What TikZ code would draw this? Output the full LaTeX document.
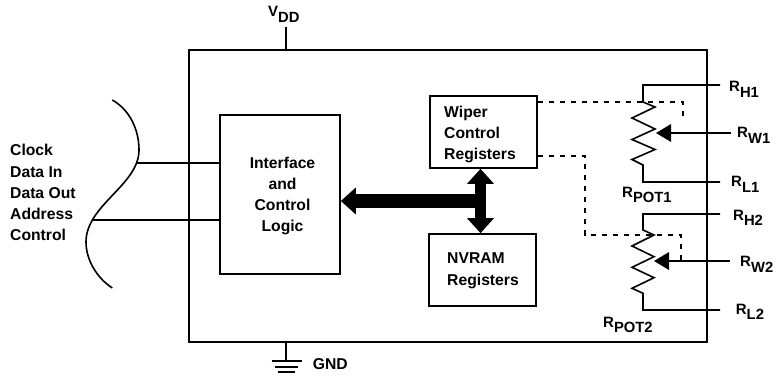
\documentclass[tikz,border=0pt]{standalone}
\usepackage{fontspec}
\setmainfont{Liberation Sans}
\usetikzlibrary{arrows.meta}
\newcommand{\sublabel}[2]{{\fontsize{15}{16}\selectfont #1}\raisebox{-5.7pt}{\fontsize{14.8}{16}\selectfont #2}}

\begin{document}
\begin{tikzpicture}[
        x=1pt,y=-1pt,
        wire/.style={black,line width=1.6pt},
        dashwire/.style={black,line width=1.6pt,dash pattern=on 5.3pt off 5.7pt},
        box/.style={draw=black,line width=1.6pt,inner sep=0pt},
        txt/.style={inner sep=0pt,font=\fontsize{15.7}{21.25}\selectfont\bfseries},
        pin/.style={txt,anchor=base west},
        bus/.style={black,line width=#1},
        bigtip/.tip={Triangle[length=15pt,width=26pt]},
        wipertip/.tip={Triangle[length=15pt,width=17.5pt]}
    ]
    \useasboundingbox (0,0) rectangle (773,377);
    % chip outline and blocks
    \node[box,minimum width=518pt,minimum height=292pt] (chip) at (448,196) {};
    \node[box,minimum width=120pt,minimum height=159pt,label={[txt,align=center,xshift=2.5pt,yshift=-1.4pt]center:Interface\\and\\Control\\Logic}] (logic) at (280,194.5) {};
    \node[box,minimum width=107pt,minimum height=72pt,label={[txt,align=left,xshift=-3.5pt,yshift=-2.3pt]center:Wiper\\Control\\Registers}] (wiper) at (483.5,132) {};
    \node[box,minimum width=107pt,minimum height=72pt,label={[txt,align=left,xshift=0.5pt,yshift=-0.7pt]center:NVRAM\\Registers}] (nvram) at (482.5,270) {};
    % supply pins
    \node[pin] (vdd) at (268,17) {\sublabel{V}{DD}};
    \coordinate (vddend) at (286,27);
    \draw[wire] (vddend) -- (vddend |- chip.north);
    \node[pin] (gnd) at (312.7,369.3) {GND};
    \coordinate (gndtop) at (286,361);
    \draw[wire] (gndtop |- chip.south) -- (gndtop);
    \draw[wire] (271.7,361) -- (301.7,361) (275,367) -- (298,367) (278,372) -- (295,372);
    % serial lines
    \node[txt,anchor=west,align=left] (serial) at (10,192.8) {Clock\\Data In\\Data Out\\Address\\Control};
    \coordinate (brace1) at (137,163);
    \coordinate (brace2) at (92,220);
    \draw[wire] (112.3,100) .. controls (130,110) and (139,130) .. (139,150) .. controls (139,185) and (86,205) .. (86,242) .. controls (86,260) and (97,278) .. (112.3,288);
    \draw[wire] (brace1) -- (brace1 -| logic.west) (brace2) -- (brace2 -| logic.west);
    % data bus
    \coordinate (busjoint) at (480.5,201);
    \draw[bus=14pt,-{bigtip}] (busjoint) -- (busjoint -| logic.east);
    \draw[bus=10.7pt,{bigtip}-{bigtip}] (busjoint |- wiper.south) -- (busjoint |- nvram.north);
    % first pot
    \coordinate (h1end) at (720,85);
    \coordinate (l1end) at (720,182);
    \coordinate (w1end) at (731,133);
    \draw[wire] (h1end) -- (643,85) -- (643,102) -- (655,107) -- (632,118) -- (655,129) -- (632,139.5) -- (655,149.5) -- (632,159.5) -- (643,165) -- (643,182) -- (l1end);
    \draw[wire,-{wipertip}] (w1end) -- (656,133);
    \draw[dashwire] (wiper.east |- 0,102) -- (683,102) -- (683,121);
    \node[pin] (rh1) at (729,91.7) {\sublabel{R}{H1}};
    \node[pin] (rw1) at (737,138) {\sublabel{R}{W1}};
    \node[pin] (rl1) at (731,186.7) {\sublabel{R}{L1}};
    \node[pin] (rpot1) at (622,197) {\sublabel{R}{POT1}};
    % second pot
    \coordinate (h2end) at (720,214);
    \coordinate (l2end) at (720,310);
    \coordinate (w2end) at (730,261);
    \draw[wire] (h2end) -- (643,214) -- (643,230) -- (654,235) -- (632,246) -- (654,256.7) -- (632,267.3) -- (654,277.7) -- (632,288.3) -- (643,293.3) -- (643,310) -- (l2end);
    \draw[wire,-{wipertip}] (w2end) -- (654,261);
    \draw[dashwire] (wiper.east |- 0,156) -- (585,156) -- (585,235) -- (681,235) -- (681,261);
    \node[pin] (rh2) at (733,220) {\sublabel{R}{H2}};
    \node[pin] (rw2) at (740,266.7) {\sublabel{R}{W2}};
    \node[pin] (rl2) at (735.7,314) {\sublabel{R}{L2}};
    \node[pin] (rpot2) at (603,327) {\sublabel{R}{POT2}};
\end{tikzpicture}
\end{document}
